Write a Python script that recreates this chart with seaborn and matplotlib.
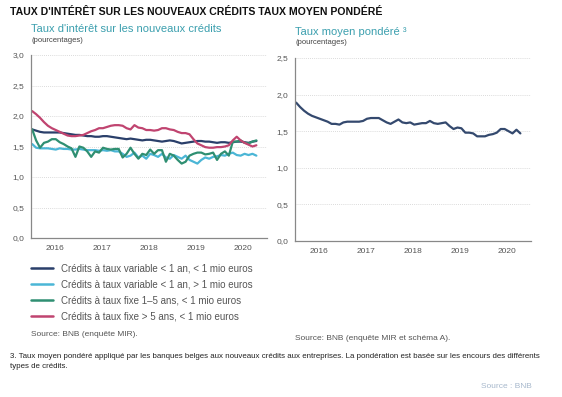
import numpy as np
import pandas as pd
import seaborn as sns
import matplotlib
matplotlib.use("Agg")
import matplotlib.pyplot as plt
from matplotlib.lines import Line2D

sns.set_style("white")
plt.rcParams['font.family'] = ['Liberation Sans', 'DejaVu Sans']

# ---------------- data ----------------
n_months = 58  # Jan 2016 .. Oct 2020
series_names = [
    "Crédits à taux variable < 1 an, < 1 mio euros",
    "Crédits à taux variable < 1 an, > 1 mio euros",
    "Crédits à taux fixe 1–5 ans, < 1 mio euros",
    "Crédits à taux fixe > 5 ans, < 1 mio euros",
]
var_small = [1.78, 1.76, 1.74, 1.73, 1.73, 1.73, 1.73, 1.73, 1.72, 1.71, 1.70, 1.69,
             1.69, 1.68, 1.67, 1.67, 1.66, 1.66, 1.67, 1.67, 1.66, 1.65, 1.64, 1.63,
             1.62, 1.63, 1.62, 1.61, 1.60, 1.61, 1.61, 1.60, 1.59, 1.58, 1.59, 1.60,
             1.59, 1.57, 1.55, 1.56, 1.57, 1.58, 1.59, 1.59, 1.58, 1.58, 1.57, 1.56,
             1.57, 1.57, 1.56, 1.57, 1.58, 1.58, 1.57, 1.56, 1.58, 1.59]
var_large = [1.54, 1.48, 1.47, 1.47, 1.47, 1.46, 1.45, 1.47, 1.46, 1.46, 1.45, 1.45,
             1.46, 1.45, 1.44, 1.44, 1.44, 1.43, 1.44, 1.43, 1.44, 1.42, 1.42, 1.38,
             1.33, 1.35, 1.40, 1.32, 1.35, 1.30, 1.38, 1.36, 1.33, 1.38, 1.32, 1.30,
             1.36, 1.33, 1.30, 1.35, 1.28, 1.25, 1.22, 1.28, 1.32, 1.30, 1.33, 1.34,
             1.36, 1.35, 1.38, 1.40, 1.36, 1.35, 1.38, 1.36, 1.38, 1.35]
fix_1_5 = [1.78, 1.60, 1.48, 1.56, 1.58, 1.62, 1.62, 1.57, 1.54, 1.50, 1.47, 1.33,
           1.50, 1.48, 1.42, 1.33, 1.42, 1.40, 1.48, 1.46, 1.45, 1.46, 1.46, 1.32,
           1.38, 1.48, 1.38, 1.30, 1.38, 1.36, 1.45, 1.38, 1.44, 1.44, 1.25, 1.38,
           1.35, 1.28, 1.22, 1.25, 1.35, 1.38, 1.40, 1.40, 1.37, 1.38, 1.40, 1.28,
           1.38, 1.42, 1.35, 1.58, 1.58, 1.60, 1.56, 1.55, 1.58, 1.60]
fix_5 = [2.08, 2.03, 1.97, 1.90, 1.84, 1.80, 1.77, 1.74, 1.71, 1.68, 1.67, 1.67,
         1.68, 1.69, 1.72, 1.75, 1.77, 1.80, 1.80, 1.82, 1.84, 1.85, 1.85, 1.84,
         1.80, 1.78, 1.85, 1.81, 1.80, 1.77, 1.77, 1.76, 1.77, 1.80, 1.80, 1.78,
         1.77, 1.74, 1.72, 1.72, 1.70, 1.62, 1.55, 1.52, 1.49, 1.48, 1.48, 1.49,
         1.49, 1.50, 1.52, 1.60, 1.66, 1.60, 1.56, 1.53, 1.50, 1.52]
weighted = [1.89, 1.83, 1.78, 1.74, 1.71, 1.69, 1.67, 1.65, 1.63, 1.60, 1.60, 1.59,
            1.62, 1.63, 1.63, 1.63, 1.63, 1.64, 1.67, 1.68, 1.68, 1.68, 1.65, 1.62,
            1.60, 1.63, 1.66, 1.62, 1.61, 1.62, 1.59, 1.60, 1.61, 1.61, 1.64, 1.61,
            1.60, 1.61, 1.62, 1.57, 1.53, 1.55, 1.54, 1.48, 1.48, 1.47, 1.43, 1.43,
            1.43, 1.45, 1.46, 1.48, 1.53, 1.53, 1.50, 1.47, 1.52, 1.47]
year_labels = ["2016", "2017", "2018", "2019", "2020"]
colors = ["#2a3f6a", "#4bb6d6", "#2f8f72", "#c04470"]

x = 2016 + (np.arange(n_months) + 0.3) / 12

df = pd.DataFrame({
    "x": np.tile(x, 4),
    "valeur": np.concatenate([var_small, var_large, fix_1_5, fix_5]),
    "serie": np.repeat(series_names, n_months),
})
df_w = pd.DataFrame({"x": x, "valeur": weighted})

W, H = 562, 397
fig = plt.figure(figsize=(W / 100, H / 100), dpi=100)

def px_axes(x0, y_top, x1, y_bot):
    return fig.add_axes([x0 / W, 1 - y_bot / H, (x1 - x0) / W, (y_bot - y_top) / H])

ax1 = px_axes(31, 55, 267, 238)
ax2 = px_axes(295, 58, 531, 241)

sns.lineplot(data=df, x="x", y="valeur", hue="serie", palette=colors,
             hue_order=series_names, linewidth=1.6, legend=False, ax=ax1)
sns.lineplot(data=df_w, x="x", y="valeur", color="#34496e", linewidth=1.6, ax=ax2)

grey = "#555555"
for ax, ymax in ((ax1, 3.0), (ax2, 2.5)):
    ax.set_xlim(2016, 2021)
    ax.set_ylim(0, ymax)
    ax.set_xlabel("")
    ax.set_ylabel("")
    yt = np.arange(0, ymax + 0.01, 0.5)
    ax.set_yticks(yt)
    ax.set_yticklabels([f"{v:.1f}".replace(".", ",") for v in yt])
    for v in yt[1:]:
        ax.axhline(v, color="#cfcfcf", linewidth=0.6, linestyle=(0, (1, 1.5)), zorder=0)
    ax.set_xticks([2017, 2018, 2019, 2020, 2021])
    ax.set_xticklabels([])
    ax.set_xticks(2016.5 + np.arange(5), minor=True)
    ax.set_xticklabels(year_labels, minor=True)
    ax.tick_params(axis="x", which="major", direction="in", length=4, color="#777777", width=0.8)
    ax.tick_params(axis="x", which="minor", length=0, labelsize=6, labelcolor=grey, pad=5)
    ax.tick_params(axis="y", direction="out", length=3, color="#777777", width=0.8,
                   labelsize=6, labelcolor=grey, pad=2)
    for s in ("top", "right"):
        ax.spines[s].set_visible(False)
    for s in ("left", "bottom"):
        ax.spines[s].set_color("#888888")
        ax.spines[s].set_linewidth(0.9)
    ax.set_facecolor("none")

teal = "#3b9fae"
fig.text(10 / W, 1 - 12 / H, "TAUX D'INTÉRÊT SUR LES NOUVEAUX CRÉDITS TAUX MOYEN PONDÉRÉ",
         fontsize=7.6, fontweight="bold", color="#111111", va="center", ha="left")
fig.text(31 / W, 1 - 29 / H, "Taux d'intérêt sur les nouveaux crédits", fontsize=8.0,
         color=teal, va="center", ha="left")
fig.text(31 / W, 1 - 41 / H, "(pourcentages)", fontsize=5.5, color="#444444", va="center", ha="left")
fig.text(295 / W, 1 - 32 / H, "Taux moyen pondéré ³", fontsize=8.0,
         color=teal, va="center", ha="left")
fig.text(295 / W, 1 - 43 / H, "(pourcentages)", fontsize=5.5, color="#444444", va="center", ha="left")

handles = [Line2D([], [], color=c, linewidth=1.8) for c in colors]
fig.legend(handles, series_names, loc="upper left", bbox_to_anchor=(27 / W, 1 - 260 / H),
           frameon=False, fontsize=7.0, labelcolor="#555555", handlelength=2.3,
           handletextpad=0.8, labelspacing=0.6, borderaxespad=0)

fig.text(31 / W, 1 - 334 / H, "Source: BNB (enquête MIR).", fontsize=6.0, color="#555555",
         va="center", ha="left")
fig.text(295 / W, 1 - 338 / H, "Source: BNB (enquête MIR et schéma A).", fontsize=6.0,
         color="#555555", va="center", ha="left")
fig.text(10 / W, 1 - 356 / H,
         "3. Taux moyen pondéré appliqué par les banques belges aux nouveaux crédits aux entreprises. "
         "La pondération est basée sur les encours des différents",
         fontsize=5.7, color="#222222", va="center", ha="left")
fig.text(10 / W, 1 - 366 / H, "types de crédits.", fontsize=5.7, color="#222222",
         va="center", ha="left")
fig.text(532 / W, 1 - 387 / H, "Source : BNB", fontsize=6, color="#a7b8cc",
         va="center", ha="right")

fig.savefig("out.png", dpi=100, facecolor="white")
